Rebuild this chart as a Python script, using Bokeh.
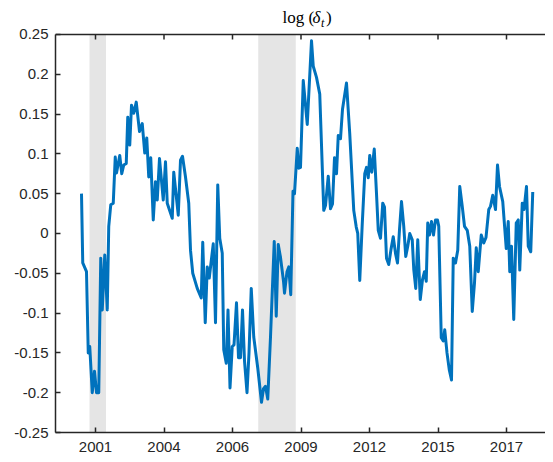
from bokeh.plotting import figure
from bokeh.models import Range1d, FixedTicker, BoxAnnotation, Label, Span
from bokeh.embed import file_html
from bokeh.resources import INLINE

# ---- data (fractional year, log delta) ----
dates = [2000.85, 2000.90, 2001.05, 2001.12, 2001.18, 2001.28, 2001.37, 2001.45, 2001.54,
         2001.62, 2001.68, 2001.78, 2001.88, 2001.94, 2002.02, 2002.12, 2002.20, 2002.25,
         2002.38, 2002.46, 2002.54, 2002.64, 2002.70, 2002.78, 2002.85, 2002.94, 2003.04,
         2003.17, 2003.28, 2003.38, 2003.46, 2003.54, 2003.62, 2003.72, 2003.81, 2003.88,
         2003.97, 2004.12, 2004.21, 2004.28, 2004.48, 2004.54, 2004.72, 2004.81, 2004.89,
         2005.01, 2005.14, 2005.21, 2005.30, 2005.48, 2005.64, 2005.70, 2005.80, 2005.88,
         2005.96, 2006.12, 2006.21, 2006.30, 2006.38, 2006.48, 2006.54, 2006.64, 2006.71,
         2006.79, 2006.88, 2006.95, 2007.05, 2007.13, 2007.21, 2007.29, 2007.37, 2007.47,
         2007.55, 2007.64, 2007.74, 2007.90, 2008.05, 2008.13, 2008.21, 2008.30, 2008.41,
         2008.56, 2008.64, 2008.72, 2008.81, 2008.93, 2008.97, 2009.07, 2009.14, 2009.22,
         2009.31, 2009.37, 2009.48, 2009.54, 2009.61, 2009.72, 2009.88, 2010.05, 2010.12,
         2010.25, 2010.38, 2010.54, 2010.61, 2010.72, 2010.81, 2010.89, 2010.97, 2011.05,
         2011.12, 2011.21, 2011.29, 2011.45, 2011.58, 2011.74, 2011.84, 2011.90, 2011.98,
         2012.08, 2012.18, 2012.25, 2012.32, 2012.38, 2012.46, 2012.56, 2012.65, 2012.72,
         2012.81, 2012.90, 2012.97, 2013.05, 2013.14, 2013.23, 2013.32, 2013.41, 2013.49,
         2013.57, 2013.65, 2013.74, 2013.82, 2013.90, 2013.98, 2014.08, 2014.14, 2014.22,
         2014.30, 2014.40, 2014.49, 2014.57, 2014.64, 2014.70, 2014.77, 2014.85, 2014.93,
         2015.01, 2015.09, 2015.14, 2015.24, 2015.32, 2015.38, 2015.47, 2015.56, 2015.65,
         2015.72, 2015.81, 2015.90, 2015.98, 2016.08, 2016.17, 2016.28, 2016.38, 2016.48,
         2016.57, 2016.64, 2016.72, 2016.84, 2016.94, 2017.03, 2017.14, 2017.21, 2017.30,
         2017.41, 2017.49, 2017.57, 2017.70, 2017.84, 2017.92, 2017.98, 2018.05, 2018.14,
         2018.24, 2018.32, 2018.38, 2018.48, 2018.55, 2018.65, 2018.72, 2018.82, 2018.90]

log_delta = [0.050, -0.037, -0.048, -0.150, -0.142, -0.200, -0.173, -0.200, -0.200,
             -0.031, -0.096, -0.027, -0.096, 0.009, 0.036, 0.038, 0.096, 0.076,
             0.098, 0.075, 0.086, 0.088, 0.146, 0.111, 0.161, 0.151, 0.165,
             0.128, 0.138, 0.101, 0.120, 0.071, 0.095, 0.017, 0.065, 0.042,
             0.094, 0.042, 0.090, 0.038, 0.019, 0.077, 0.023, 0.092, 0.097,
             0.071, 0.038, -0.021, -0.050, -0.069, -0.081, -0.011, -0.112, -0.042,
             -0.056, -0.013, -0.112, 0.061, -0.006, -0.025, -0.146, -0.163, -0.096,
             -0.194, -0.142, -0.140, -0.087, -0.156, -0.156, -0.096, -0.160, -0.200,
             -0.150, -0.069, -0.130, -0.169, -0.212, -0.195, -0.192, -0.208, -0.130,
             -0.010, -0.104, -0.014, -0.030, -0.060, -0.075, -0.048, -0.042, -0.077,
             0.053, 0.050, 0.107, 0.082, 0.083, 0.192, 0.137, 0.242, 0.210,
             0.196, 0.175, 0.029, 0.035, 0.072, 0.031, 0.037, 0.095, 0.075,
             0.123, 0.119, 0.156, 0.189, 0.125, 0.029, 0.008, 0.000, -0.059,
             0.012, 0.075, 0.083, 0.070, 0.098, 0.077, 0.106, 0.050, 0.004,
             -0.006, 0.038, 0.033, -0.031, -0.039, -0.020, -0.004, -0.025, -0.037,
             0.005, 0.040, 0.009, -0.029, -0.016, 0.000, -0.008, -0.045, -0.069,
             -0.008, -0.083, -0.058, -0.048, -0.060, 0.013, -0.002, 0.015, -0.002,
             0.017, 0.017, 0.009, -0.131, -0.135, -0.121, -0.150, -0.171, -0.184,
             -0.031, -0.037, -0.021, 0.059, 0.034, 0.009, 0.004, -0.016, -0.098,
             -0.062, -0.018, -0.048, -0.002, -0.012, -0.005, 0.030, 0.034, 0.048,
             0.030, 0.086, 0.059, 0.040, -0.019, 0.015, -0.048, -0.016, -0.108,
             0.013, 0.017, -0.046, 0.038, 0.030, 0.059, -0.016, -0.023, 0.052]

recession_start = [2001.17, 2007.92]
recession_end = [2001.83, 2009.42]

xtick_pos = [2001.41, 2004.15, 2006.89, 2009.63, 2012.37, 2015.11, 2017.85]
xtick_labels = ["2001", "2004", "2006", "2009", "2012", "2015", "2017"]
ytick_pos = [-0.25, -0.2, -0.15, -0.1, -0.05, 0.0, 0.05, 0.1, 0.15, 0.2, 0.25]
ytick_labels = ["-0.25", "-0.2", "-0.15", "-0.1", "-0.05", "0", "0.05", "0.1", "0.15", "0.2", "0.25"]

Y_LO, Y_HI = -0.25, 0.25
AX = "#262626"
LW = 1.5
FONT = "Liberation Sans"

# frame spans the full height above the x axis; the axes box itself is -0.25..0.25
p = figure(width=545, height=454, output_backend="svg", toolbar_location=None,
           x_range=Range1d(1999.81, 2019.41), y_range=Range1d(Y_LO, 0.2926),
           min_border_left=55, min_border_top=0, min_border_right=0, min_border_bottom=10)
p.outline_line_color = None
p.xgrid.visible = False
p.ygrid.visible = False
p.background_fill_color = "white"
p.border_fill_color = "white"

for s, e in zip(recession_start, recession_end):
    p.add_layout(BoxAnnotation(left=s, right=e, bottom=Y_LO, top=Y_HI,
                               fill_color="#E5E5E5", fill_alpha=1.0,
                               line_alpha=0, level="underlay"))

p.line(dates, log_delta, line_color="#0072BD", line_width=3, line_join="round")

def style(ax):
    ax.axis_line_color = AX
    ax.axis_line_width = LW
    ax.major_tick_line_color = AX
    ax.major_tick_line_width = LW
    ax.major_tick_in = 5
    ax.major_tick_out = 0
    ax.minor_tick_line_color = None
    ax.major_label_text_font = FONT
    ax.major_label_text_font_size = "15px"
    ax.major_label_text_color = AX

xa = p.xaxis[0]
xa.ticker = FixedTicker(ticks=xtick_pos)
xa.major_label_overrides = {k: v for k, v in zip(xtick_pos, xtick_labels)}
style(xa)
xa.major_label_standoff = 9

ya = p.yaxis[0]
ya.ticker = FixedTicker(ticks=ytick_pos)
ya.major_label_overrides = {k: v for k, v in zip(ytick_pos, ytick_labels)}
ya.bounds = (Y_LO, Y_HI)
style(ya)
ya.major_label_standoff = 7

# top edge of the box with inward ticks
p.add_layout(Span(location=Y_HI, dimension="width", line_color=AX, line_width=LW))
tick_len = 5 * (Y_HI - Y_LO) / 399
p.segment(x0=xtick_pos, x1=xtick_pos, y0=[Y_HI] * len(xtick_pos),
          y1=[Y_HI - tick_len] * len(xtick_pos), line_color=AX, line_width=LW)

# title: log (delta_t), placed in data space above the box
TF = "Liberation Serif"
ty = Y_HI + 7 * (Y_HI - Y_LO) / 399
p.add_layout(Label(x=2008.89, y=ty, text="log (",
                   text_font=TF, text_font_size="17px", text_color="black"))
p.add_layout(Label(x=2010.09, y=ty, text="δ",
                   text_font=TF, text_font_size="17px", text_font_style="italic", text_color="black"))
p.add_layout(Label(x=2010.43, y=ty - 3 * (Y_HI - Y_LO) / 399, text="t",
                   text_font=TF, text_font_size="12px", text_font_style="italic", text_color="black"))
p.add_layout(Label(x=2010.63, y=ty, text=")",
                   text_font=TF, text_font_size="17px", text_color="black"))

open("out.html", "w").write(file_html(p, INLINE))
